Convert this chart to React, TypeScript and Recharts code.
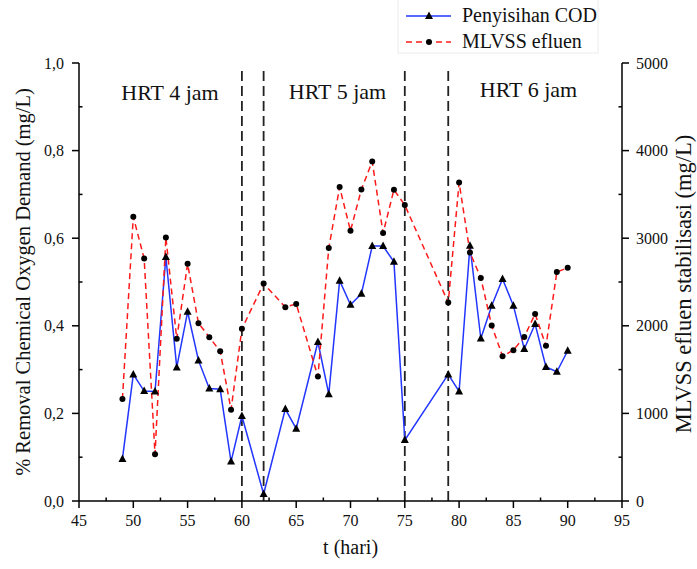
import React from 'react';
import { LineChart, Line, XAxis, YAxis, ReferenceLine } from 'recharts';

const days = [49, 50, 51, 52, 53, 54, 55, 56, 57, 58, 59, 60, 62, 64, 65, 67, 68, 69, 70, 71, 72, 73, 74, 75, 79, 80, 81, 82, 83, 84, 85, 86, 87, 88, 89, 90];
const codRemoval = [0.096, 0.289, 0.251, 0.25, 0.557, 0.305, 0.432, 0.321, 0.257, 0.255, 0.09, 0.194, 0.016, 0.21, 0.165, 0.363, 0.244, 0.503, 0.448, 0.473, 0.582, 0.582, 0.546, 0.139, 0.289, 0.25, 0.583, 0.371, 0.446, 0.507, 0.446, 0.347, 0.404, 0.306, 0.295, 0.343];
const mlvss = [1165, 3244, 2768, 533, 3008, 1851, 2707, 2030, 1870, 1710, 1043, 1965, 2482, 2213, 2250, 1420, 2887, 3584, 3084, 3556, 3876, 3058, 3553, 3378, 2265, 3636, 2836, 2547, 2003, 1653, 1722, 1873, 2136, 1771, 2613, 2662];

const phaseBoundaries = [60, 62, 75, 79];
const phaseLabels = ['HRT 4 jam', 'HRT 5 jam', 'HRT 6 jam'];

const xTicks = [45, 47.5, 50, 52.5, 55, 57.5, 60, 62.5, 65, 67.5, 70, 72.5, 75, 77.5, 80, 82.5, 85, 87.5, 90, 92.5, 95];
const leftTicks = [0, 0.1, 0.2, 0.3, 0.4, 0.5, 0.6, 0.7, 0.8, 0.9, 1.0];
const rightTicks = [0, 500, 1000, 1500, 2000, 2500, 3000, 3500, 4000, 4500, 5000];

const seriesNames = ['Penyisihan COD', 'MLVSS efluen'];
const axisTitles = {
  x: 't (hari)',
  left: '% Removal Chemical Oxygen Demand (mg/L)',
  right: 'MLVSS efluen stabilisasi (mg/L)',
};

const data = days.map((d, i) => ({ day: d, cod: codRemoval[i], mlvss: mlvss[i] }));

const FONT = '"Liberation Serif", "Times New Roman", serif';
const BLUE = '#2236ff';
const RED = '#ff1a1a';

const isMajor = (v: number, step: number) => Math.abs(v / step - Math.round(v / step)) < 1e-6;

const XTick = (props: any) => {
  const { x, y, payload } = props;
  const v = payload.value;
  const axisY = y - 14;
  if (isMajor(v, 5)) {
    return (
      <g>
        <line x1={x} x2={x} y1={axisY} y2={axisY + 7} stroke="#000" strokeWidth={1.5} />
        <text x={x} y={y} dy="0.71em" textAnchor="middle" fontFamily={FONT} fontSize={16} fill="#111">{v}</text>
      </g>
    );
  }
  return <line x1={x} x2={x} y1={axisY} y2={axisY - 3.5} stroke="#000" strokeWidth={1.5} />;
};

const LeftTick = (props: any) => {
  const { x, y, payload } = props;
  const v = payload.value;
  const axisX = x + 15;
  if (isMajor(v, 0.2)) {
    return (
      <g>
        <line x1={axisX - 7} x2={axisX} y1={y} y2={y} stroke="#000" strokeWidth={1.5} />
        <text x={x} y={y} dy="0.355em" textAnchor="end" fontFamily={FONT} fontSize={16} fill="#111">{v.toFixed(1).replace('.', ',')}</text>
      </g>
    );
  }
  return <line x1={axisX} x2={axisX + 3.5} y1={y} y2={y} stroke="#000" strokeWidth={1.5} />;
};

const RightTick = (props: any) => {
  const { x, y, payload } = props;
  const v = payload.value;
  const axisX = x - 14;
  if (isMajor(v, 1000)) {
    return (
      <g>
        <line x1={axisX} x2={axisX + 7} y1={y} y2={y} stroke="#000" strokeWidth={1.5} />
        <text x={x} y={y} dy="0.355em" textAnchor="start" fontFamily={FONT} fontSize={16} fill="#111">{v}</text>
      </g>
    );
  }
  return <line x1={axisX} x2={axisX - 3.5} y1={y} y2={y} stroke="#000" strokeWidth={1.5} />;
};

const Triangle = (props: any) => {
  const { cx, cy } = props;
  if (cx == null || cy == null) return null;
  return <polygon points={`${cx},${cy - 4.5} ${cx - 4},${cy + 3} ${cx + 4},${cy + 3}`} fill="#000" />;
};

const Circle = (props: any) => {
  const { cx, cy } = props;
  if (cx == null || cy == null) return null;
  return <circle cx={cx} cy={cy} r={3} fill="#000" />;
};

export default function App() {
  return (
    <div style={{ position: 'absolute', left: 0, top: 0, background: '#fff' }}>
      <LineChart width={697} height={569} data={data} margin={{ top: 63, right: 0, bottom: 0, left: 0 }}>
        <XAxis
          dataKey="day"
          type="number"
          domain={[45, 95]}
          ticks={xTicks}
          interval={0}
          height={68}
          tickSize={7}
          tickMargin={7}
          tickLine={false}
          tick={<XTick />}
          axisLine={{ stroke: '#000', strokeWidth: 1.5 }}
        />
        <YAxis
          yAxisId="left"
          orientation="left"
          domain={[0, 1]}
          ticks={leftTicks}
          interval={0}
          width={79}
          tickSize={7}
          tickMargin={8}
          tickLine={false}
          tick={<LeftTick />}
          axisLine={{ stroke: '#000', strokeWidth: 1.5 }}
        />
        <YAxis
          yAxisId="right"
          orientation="right"
          domain={[0, 5000]}
          ticks={rightTicks}
          interval={0}
          width={75}
          tickSize={7}
          tickMargin={7}
          tickLine={false}
          tick={<RightTick />}
          axisLine={{ stroke: '#000', strokeWidth: 1.5 }}
        />
        {phaseBoundaries.map((b) => (
          <ReferenceLine
            key={b}
            yAxisId="left"
            segment={[{ x: b, y: 0 }, { x: b, y: 0.988 }]}
            stroke="#222"
            strokeWidth={1.8}
            strokeDasharray="10 5"
          />
        ))}
        <Line
          yAxisId="left"
          type="linear"
          dataKey="cod"
          name={seriesNames[0]}
          stroke={BLUE}
          strokeWidth={1.5}
          dot={<Triangle />}
          activeDot={false}
          isAnimationActive={false}
        />
        <Line
          yAxisId="right"
          type="linear"
          dataKey="mlvss"
          name={seriesNames[1]}
          stroke={RED}
          strokeWidth={1.5}
          strokeDasharray="6 4"
          dot={<Circle />}
          activeDot={false}
          isAnimationActive={false}
        />
        <g fontFamily={FONT} fill="#111">
          <text x={170} y={99.5} textAnchor="middle" fontSize={22}>{phaseLabels[0]}</text>
          <text x={337.5} y={98.5} textAnchor="middle" fontSize={22}>{phaseLabels[1]}</text>
          <text x={528.5} y={96.5} textAnchor="middle" fontSize={22}>{phaseLabels[2]}</text>
          <text x={350.6} y={554} textAnchor="middle" fontSize={20}>{axisTitles.x}</text>
          <text transform="translate(30,282) rotate(-90)" textAnchor="middle" fontSize={20.5}>{axisTitles.left}</text>
          <text transform="translate(691,284) rotate(-90)" textAnchor="middle" fontSize={22.5}>{axisTitles.right}</text>
        </g>
        <g>
          <rect x={398} y={-1} width={200} height={54} fill="none" stroke="#ececec" />
          <line x1={406} x2={451} y1={16} y2={16} stroke={BLUE} strokeWidth={1.5} />
          <polygon points="429,11.5 425,19 433,19" fill="#000" />
          <line x1={406} x2={451} y1={42} y2={42} stroke={RED} strokeWidth={1.5} strokeDasharray="6 4" />
          <circle cx={429} cy={42} r={3} fill="#000" />
          <text x={462} y={22.3} fontFamily={FONT} fontSize={20} fill="#111">{seriesNames[0]}</text>
          <text x={462} y={48.3} fontFamily={FONT} fontSize={20} fill="#111">{seriesNames[1]}</text>
        </g>
      </LineChart>
    </div>
  );
}
